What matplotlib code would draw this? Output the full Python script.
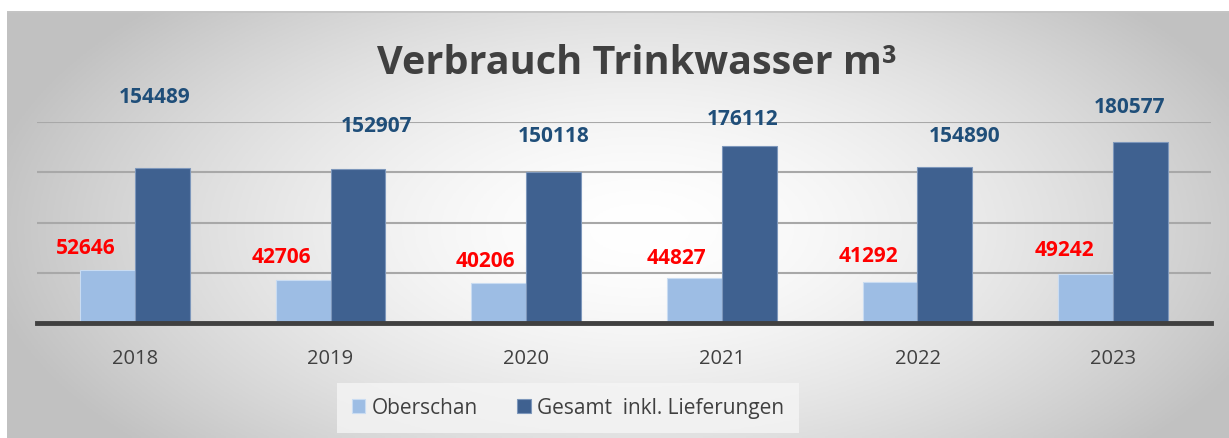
import numpy as np
import matplotlib.pyplot as plt

# Data
years = ['2018', '2019', '2020', '2021', '2022', '2023']
oberschan = [52646, 42706, 40206, 44827, 41292, 49242]
gesamt = [154489, 152907, 150118, 176112, 154890, 180577]

# label offsets in pixels (dx, dy above bar top) - hand placed like the original
gesamt_off = [(-8, 71), (19, 44), (0, 37), (-7, 28), (20, 32), (-11, 35)]
ober_off = [(-22, 23), (-22, 24), (-13, 22), (-18, 20), (-22, 26), (-21, 24)]

W, H = 1229, 439
plt.rcParams['font.family'] = ['Open Sans', 'DejaVu Sans']
fig = plt.figure(figsize=(W / 100, H / 100), dpi=100)
fig.patch.set_facecolor('white')

# Background with radial gradient
bg = fig.add_axes([7 / W, 0, (W - 7) / W, (H - 12) / H], zorder=-5)
xx, yy = np.meshgrid(np.linspace(7, W, 400), np.linspace(12, H, 150))
d = np.sqrt(((xx - 640) / 660) ** 2 + ((yy - 230) / 330) ** 2)
shade = 1 - 0.24 * np.clip(d, 0, 1) ** 1.6
bg.imshow(np.dstack([shade] * 3), aspect='auto', extent=[0, 1, 0, 1], origin='upper')
bg.axhline(1, color='#c4c4c4', lw=2)
bg.set_xlim(0, 1); bg.set_ylim(0, 1)
bg.axis('off')

# Main axes
ax = fig.add_axes([37 / W, (H - 324) / H, (1211 - 37) / W, (324 - 123) / H])
ax.set_facecolor('none')
x = np.arange(len(years))
bw = 0.28
b1 = ax.bar(x - bw / 2, oberschan, bw, color='#9dbde4', edgecolor='#c9dcf2', lw=0.8,
            label='Oberschan', zorder=3)
b2 = ax.bar(x + bw / 2, gesamt, bw, color='#3f6190', edgecolor='#7d97bb', lw=0.8,
            label='Gesamt  inkl. Lieferungen', zorder=3)

ax.set_xlim(-0.5, len(years) - 0.5)
ax.set_ylim(0, 200000)
ax.set_yticks([50000, 100000, 150000, 200000])
ax.yaxis.grid(True, color='#a8a8a8', lw=1.5)
ax.tick_params(axis='y', left=False, labelleft=False)
ax.set_xticks(x)
ax.set_xticklabels(years, fontsize=14.5, color='#404040')
ax.tick_params(axis='x', length=0, pad=18)
for s in ['top', 'right', 'left']:
    ax.spines[s].set_visible(False)
ax.spines['bottom'].set_color('#404040')
ax.spines['bottom'].set_linewidth(3.5)
ax.spines['bottom'].set_zorder(4)

for i in range(len(years)):
    dx, dy = gesamt_off[i]
    ax.annotate(str(gesamt[i]), (x[i] + bw / 2, gesamt[i]), xytext=(dx, dy),
                textcoords='offset pixels', ha='center', va='center',
                fontsize=15, fontweight='bold', color='#1f4e79')
    dx, dy = ober_off[i]
    ax.annotate(str(oberschan[i]), (x[i] - bw / 2, oberschan[i]), xytext=(dx, dy),
                textcoords='offset pixels', ha='center', va='center',
                fontsize=15, fontweight='bold', color='#ff0000')

fig.text(637 / W, 1 - 64 / H, 'Verbrauch Trinkwasser m³', ha='center', va='center',
         fontsize=28.5, fontweight='bold', color='#404040')

leg = fig.legend(handles=[b1, b2], loc='center', bbox_to_anchor=(568 / W, 1 - 409 / H),
                 ncol=2, frameon=True, fontsize=15, handlelength=0.65, handleheight=0.65,
                 handletextpad=0.3, columnspacing=1.9, borderpad=0.7)
leg.get_frame().set_facecolor('#f5f5f5')
leg.get_frame().set_edgecolor('none')
leg.get_frame().set_boxstyle('square', pad=0)
for t in leg.get_texts():
    t.set_color('#404040')

fig.savefig('out.png', dpi=100)
